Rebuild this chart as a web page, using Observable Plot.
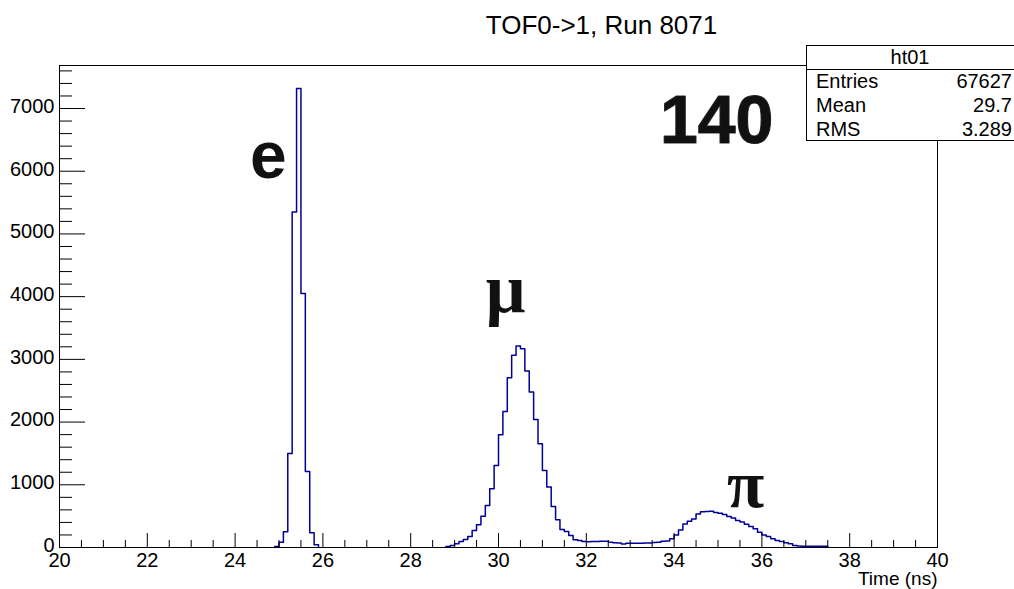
<!DOCTYPE html>
<html>
<head>
<meta charset="utf-8">
<script src="https://cdn.jsdelivr.net/npm/d3@7"></script>
<script src="https://cdn.jsdelivr.net/npm/@observablehq/plot@0.6"></script>
<style>
  body { margin: 0; background: #fff; }
  svg { display: block; }
</style>
</head>
<body>
<div id="chart"></div>
<script>
// TOF0 -> TOF1 time-of-flight histogram, 0.1 ns bins
const binWidth = 0.1;

// electron peak, bins starting at 24.9 ns
const electronStart = 24.9;
const electronCounts = [15, 85, 250, 1500, 5350, 7320, 4050, 1210, 235, 45];

// muon and pion peaks, bins starting at 28.8 ns
const muonPionStart = 28.8;
const muonPionCounts = [
  16, 32, 59, 96, 128, 176, 271, 362, 500, 670,            // 28.8 - 29.7
  936, 1309, 1798, 2170, 2708, 3064, 3213, 3170, 2814, 2479, // 29.8 - 30.7
  2043, 1655, 1229, 963, 654, 442, 287, 255, 192, 122,      // 30.8 - 31.7
  112, 96,                                                   // 31.8 - 31.9
  90, 95, 95, 100, 100, 85, 75, 70, 55, 68,                 // 32.0 - 32.9
  68, 68, 68, 70, 70, 80, 85, 100, 105, 140,                // 33.0 - 33.9
  200, 280, 375, 420, 455, 535, 570, 575, 580, 560,         // 34.0 - 34.9
  545, 525, 495, 470, 430, 405, 370, 335, 300, 245,         // 35.0 - 35.9
  200, 175, 140, 112, 95, 75, 58, 30, 25, 20,               // 36.0 - 36.9
  20, 20, 20, 20, 20                                         // 37.0 - 37.4
];

const xMajorTicks = [20, 22, 24, 26, 28, 30, 32, 34, 36, 38, 40];
const yMajorTicks = [0, 1000, 2000, 3000, 4000, 5000, 6000, 7000];

const titleText = "TOF0->1, Run 8071";
const xLabel = "Time (ns)";
const statsName = "ht01";
const statsRows = [
  ["Entries", "67627"],
  ["Mean", "29.7"],
  ["RMS", "3.289"]
];

// outline points for a step histogram segment (closed down to zero at both ends)
function stepPoints(start, counts, group) {
  const pts = [{t: start, n: 0, group}];
  counts.forEach((n, i) => pts.push({t: start + i * binWidth, n, group}));
  pts.push({t: start + counts.length * binWidth, n: 0, group});
  return pts;
}
const histPoints = [
  ...stepPoints(electronStart, electronCounts, "e"),
  ...stepPoints(muonPionStart, muonPionCounts, "mupi")
];

const yMax = d3.max([...electronCounts, ...muonPionCounts]) * 1.05;
const xMinorTicks = d3.range(20, 40.001, 0.5).filter(v => !xMajorTicks.includes(v));
const yMinorTicks = d3.range(0, yMax, 200).filter(v => v % 1000 !== 0);

const sans = "'Liberation Sans', Arial, Helvetica, sans-serif";
const serif = "'Liberation Serif', 'Times New Roman', serif";
const fmt = d3.format("d");

const chart = Plot.plot({
  width: 1014,
  height: 589,
  marginLeft: 59,
  marginRight: 77,
  marginTop: 65,
  marginBottom: 42,
  style: {fontFamily: sans, fontSize: "20px", color: "black", background: "white"},
  x: {domain: [20, 40]},
  y: {domain: [0, yMax]},
  marks: [
    Plot.line(histPoints, {x: "t", y: "n", z: "group", curve: "step-after", stroke: "#000099", strokeWidth: 1.5}),
    Plot.frame({stroke: "black"}),
    // inward tick marks
    Plot.axisX({ticks: xMajorTicks, tickSize: 14, dy: -14, fill: "none", label: null}),
    Plot.axisX({ticks: xMinorTicks, tickSize: 7, dy: -7, fill: "none", label: null}),
    Plot.axisY({ticks: yMajorTicks, tickSize: 26, dx: 26, fill: "none", label: null}),
    Plot.axisY({ticks: yMinorTicks, tickSize: 13, dx: 13, fill: "none", label: null}),
    // tick labels
    Plot.axisX({ticks: xMajorTicks, tickSize: 0, tickPadding: 5, tickFormat: fmt, label: null, fontSize: 20}),
    Plot.axisY({ticks: yMajorTicks, tickSize: 0, tickPadding: 5, tickFormat: fmt, label: null, fontSize: 20, dy: -2}),
    // axis title and chart title
    Plot.text([xLabel], {frameAnchor: "bottom-right", dy: 37, textAnchor: "end", lineAnchor: "bottom", fontSize: 19}),
    Plot.text([titleText], {frameAnchor: "top-left", dx: 542, dy: -32, textAnchor: "middle", lineAnchor: "bottom", fontSize: 26}),
    // particle labels
    Plot.text(["e"], {x: 24.76, y: 5885, textAnchor: "middle", lineAnchor: "bottom", fontSize: 66, fontWeight: "bold", fontFamily: sans, fill: "#111"}),
    Plot.text(["\u03bc"], {x: 30.16, y: 3748, textAnchor: "middle", lineAnchor: "bottom", fontSize: 70, fontWeight: "bold", fontFamily: serif, fill: "#111"}),
    Plot.text(["\u03c0"], {x: 35.63, y: 638, textAnchor: "middle", lineAnchor: "bottom", fontSize: 68, fontWeight: "bold", fontFamily: serif, fill: "#111"}),
    Plot.text(["140"], {x: 34.97, y: 6443, textAnchor: "middle", lineAnchor: "bottom", fontSize: 68, fontWeight: "bold", fontFamily: sans, fill: "#111", stroke: "#333", strokeWidth: 1.2})
  ]
});

document.getElementById("chart").appendChild(chart);

// statistics box in the top-right corner
const svg = d3.select(chart);
const box = svg.append("g")
  .attr("font-family", sans).attr("font-size", 20).attr("fill", "black")
  .attr("text-anchor", "start");
box.append("rect")
  .attr("x", 806.5).attr("y", 45.5).attr("width", 220).attr("height", 95)
  .attr("fill", "white").attr("stroke", "black");
box.append("line")
  .attr("x1", 806).attr("x2", 1014).attr("y1", 69.5).attr("y2", 69.5)
  .attr("stroke", "black");
box.append("text")
  .attr("x", 910).attr("y", 64).attr("text-anchor", "middle").text(statsName);
statsRows.forEach(([name, value], i) => {
  const y = 88 + i * 24;
  box.append("text").attr("x", 816).attr("y", y).attr("text-anchor", "start").text(name);
  box.append("text").attr("x", 1012).attr("y", y).attr("text-anchor", "end").text(value);
});
</script>
</body>
</html>
